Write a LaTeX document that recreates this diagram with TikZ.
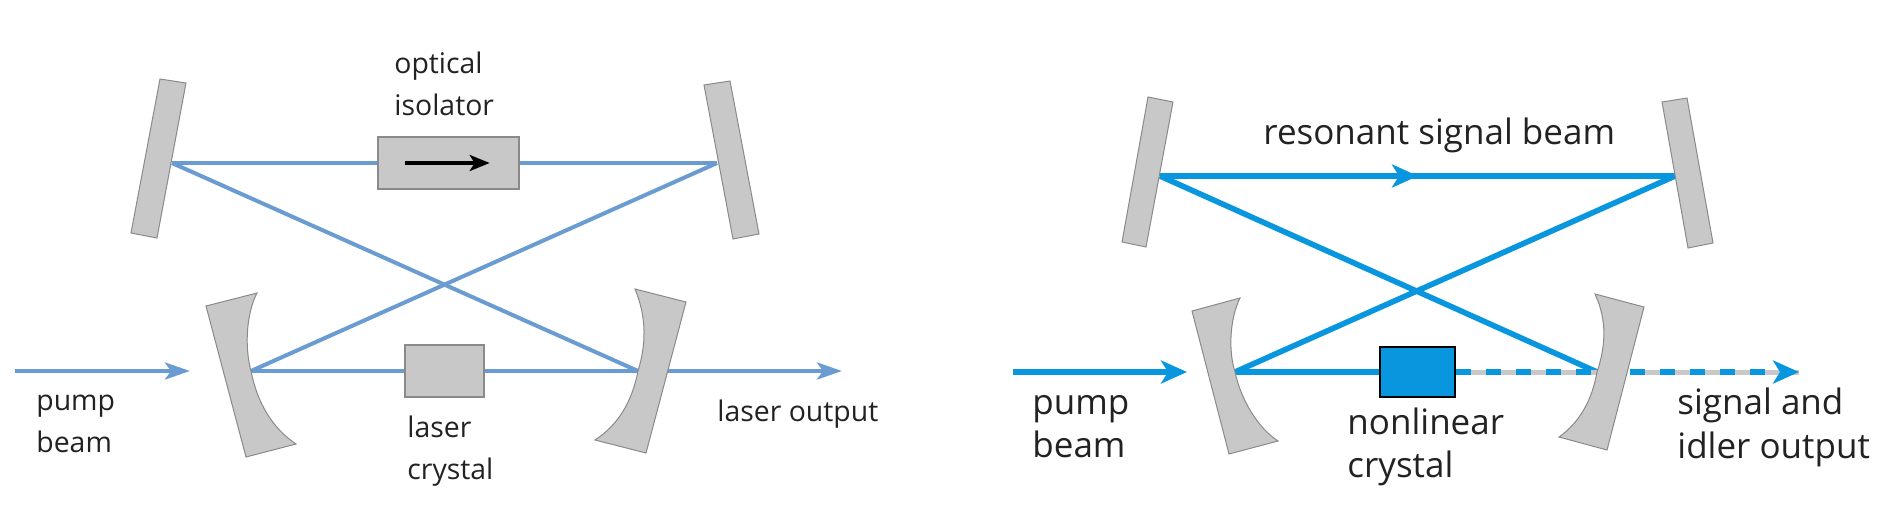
\documentclass[tikz,border=0pt]{standalone}
\usepackage{fontspec}
\setmainfont{Open Sans}
\usepackage{xcolor}
\usetikzlibrary{arrows.meta,calc}
\definecolor{beamBlue}{HTML}{6A9CD2}
\definecolor{beamCyan}{HTML}{0896DE}
\definecolor{mirrorGray}{HTML}{C8C8C8}
\definecolor{edgeGray}{HTML}{8A8A8A}
\definecolor{textDark}{HTML}{222222}
\begin{document}
\begin{tikzpicture}[x=0.5pt,y=-0.5pt,
  mirror/.style={draw=edgeGray, line width=0.5pt, fill=mirrorGray},
  beamL/.style={beamBlue, line width=2pt},
  beamR/.style={beamCyan, line width=2.8pt},
  tipL/.style={-{Stealth[length=12.5pt,width=8.5pt,inset=3pt]}},
  tipR/.style={-{Stealth[length=13pt,width=11.5pt,inset=3.5pt]}},
  lblL/.style={anchor=north west, inner sep=0pt, align=left, textDark,
    font=\fontsize{14.2}{20.8}\selectfont},
  lblR/.style={anchor=north west, inner sep=0pt, align=left, textDark,
    font=\fontsize{17.5}{21.5}\selectfont},
  isobox/.style={draw=edgeGray, line width=0.7pt, fill=mirrorGray, inner sep=0pt,
    minimum width=70.5pt, minimum height=26pt},
  xtalL/.style={isobox, minimum width=39.5pt},
  xtalR/.style={draw=black, line width=0.9pt, fill=beamCyan, inner sep=0pt,
    minimum width=37.5pt, minimum height=25pt}]
\useasboundingbox (0,0) rectangle (1904,520);
% left cavity
\coordinate (lTL) at (172,163);
\coordinate (lTR) at (717,163);
\coordinate (lBL) at (251,371);
\coordinate (lBR) at (638,371);
\coordinate (lIn) at (15,371);
\coordinate (lInEnd) at (190,371);
\coordinate (lOut) at (842,371);
\node[isobox] (iso) at (448.5,163) {};
\node[xtalL] (xtalA) at (444.5,371) {};
\draw[beamL] (lTL) -- (iso) (iso) -- (lTR);
\draw[beamL] (lTL) -- (lBR);
\draw[beamL] (lTR) -- (lBL);
\draw[beamL] (lBL) -- (xtalA) (xtalA) -- (lBR);
\draw[beamL,tipL] (lIn) -- (lInEnd);
\draw[beamL,tipL] (lBR) -- (lOut);
\node[isobox] (isoTop) at (iso) {};
\node[xtalL] (xtalATop) at (xtalA) {};
\draw[black, line width=1.8pt, -{Stealth[length=10pt,width=8pt,inset=2.5pt]}]
  ([xshift=14pt]isoTop.west) -- ([xshift=-15pt]isoTop.east);
\draw[mirror] (160,79) -- (186,83) -- (157,238) -- (131,233) -- cycle;
\draw[mirror] (704,85) -- (730,81) -- (759,234) -- (733,239) -- cycle;
\draw[mirror] (206,306) -- (257,293) .. controls (247,312) and (244,345) .. (251,371)
  .. controls (257,402) and (272,428) .. (296,444) -- (246,457) -- cycle;
\draw[mirror] (635,289) -- (686,302) -- (646,453) -- (595,440)
  .. controls (618,425) and (632,402) .. (638,371) .. controls (646,345) and (647,318) .. cycle;
% left labels
\node[lblL] (optIso) at (394,52) {optical\\isolator};
\node[lblL] (pumpA) at (36,395) {pump\\beam};
\node[lblL] (xtalLabelA) at (407,416) {laser\\crystal};
\node[lblL] (outA) at (717,400) {laser output};
% right cavity
\coordinate (rTL) at (1160,176);
\coordinate (rMid) at (1418,176);
\coordinate (rTR) at (1675,176);
\coordinate (rBL) at (1235,372);
\coordinate (rBR) at (1597,372);
\coordinate (rIn) at (1013,372);
\coordinate (rInEnd) at (1187,372);
\coordinate (rOutStart) at (1630,372);
\coordinate (rOut) at (1799,372);
\node[xtalR] (xtalB) at (1417.5,372) {};
\draw[beamR] (rTL) -- (rTR);
\draw[beamR,tipR] (rTL) -- (rMid);
\draw[beamR] (rTL) -- (rBR);
\draw[beamR] (rTR) -- (rBL);
\draw[beamR] (rBL) -- (xtalB);
\draw[mirrorGray, line width=2.5pt] (xtalB) -- (rBR);
\draw[beamR, dash pattern=on 7.5pt off 7.5pt] (xtalB.east) -- (rBR);
\draw[mirrorGray, line width=2.5pt] (rOutStart) -- (rOut);
\draw[beamR,tipR, dash pattern=on 7.5pt off 7.5pt] (rOutStart) -- (rOut);
\draw[beamR,tipR] (rIn) -- (rInEnd);
\node[xtalR] (xtalBTop) at (xtalB) {};
\draw[mirror] (1148,97) -- (1173,102) -- (1146,247) -- (1122,242) -- cycle;
\draw[mirror] (1662,102) -- (1687,98) -- (1713,243) -- (1688,248) -- cycle;
\draw[mirror] (1192,311) -- (1240,298) .. controls (1230,318) and (1228,350) .. (1235,372)
  .. controls (1241,400) and (1258,428) .. (1278,441) -- (1229,454) -- cycle;
\draw[mirror] (1595,294) -- (1644,307) -- (1607,450) -- (1559,437)
  .. controls (1580,422) and (1592,400) .. (1597,372) .. controls (1606,345) and (1607,320) .. cycle;
% right labels
\node[lblR] (sigBeam) at (1263,118) {resonant signal beam};
\node[lblR] (pumpB) at (1032,395) {pump\\beam};
\node[lblR] (xtalLabelB) at (1347,407) {nonlinear\\crystal};
\node[lblR] (outB) at (1677,388) {signal and\\idler output};
\end{tikzpicture}
\end{document}
